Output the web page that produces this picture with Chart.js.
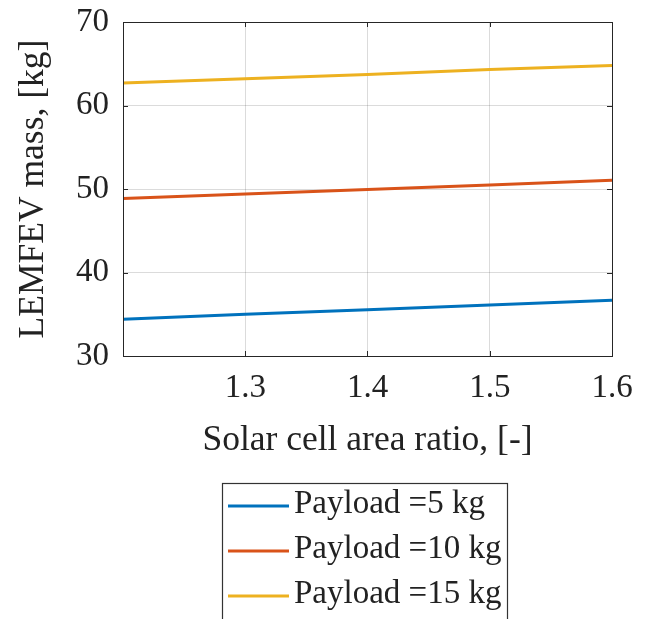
<!DOCTYPE html>
<html>
<head>
<meta charset="utf-8">
<script src="https://cdn.jsdelivr.net/npm/chart.js@4/dist/chart.umd.min.js"></script>
<style>
  html, body { margin: 0; padding: 0; background: #fff; }
  #wrap { width: 646px; height: 619px; }
</style>
</head>
<body>
<div id="wrap"><canvas id="c" width="646" height="619"></canvas></div>
<script>
// Solar cell area ratio (x) and LEMFEV mass for three payloads
const areaRatio = [1.2, 1.3, 1.4, 1.5, 1.6];
const mass5kg  = [34.40, 34.99, 35.54, 36.10, 36.67];
const mass10kg = [48.85, 49.41, 49.93, 50.49, 51.05];
const mass15kg = [62.69, 63.20, 63.72, 64.32, 64.80];
const seriesLabels = ['Payload =5 kg', 'Payload =10 kg', 'Payload =15 kg'];
const seriesColors = ['#0072BD', '#D95319', '#EDB120'];
const yTicks = [30, 40, 50, 60, 70];
const xTicks = [1.3, 1.4, 1.5, 1.6];

const FONT = '"Liberation Serif", "DejaVu Serif", serif';
const TEXT = '#222222';
const pts = ys => areaRatio.map((x, i) => ({ x: x, y: ys[i] }));

// Box around the axes, inward tick marks and the boxed legend below
const framePlugin = {
  id: 'frame',
  afterDatasetsDraw(chart) {
    const { ctx, chartArea: a, scales } = chart;
    ctx.save();
    ctx.strokeStyle = '#262626';
    ctx.lineWidth = 1;
    ctx.strokeRect(Math.round(a.left) + 0.5, Math.round(a.top) + 0.5,
                   Math.round(a.right - a.left), Math.round(a.bottom - a.top));
    const tl = 5;
    ctx.beginPath();
    xTicks.forEach(v => {
      const px = Math.round(scales.x.getPixelForValue(v)) + 0.5;
      ctx.moveTo(px, a.bottom); ctx.lineTo(px, a.bottom - tl);
      ctx.moveTo(px, a.top); ctx.lineTo(px, a.top + tl);
    });
    yTicks.forEach(v => {
      const py = Math.round(scales.y.getPixelForValue(v)) + 0.5;
      ctx.moveTo(a.left, py); ctx.lineTo(a.left + tl, py);
      ctx.moveTo(a.right, py); ctx.lineTo(a.right - tl, py);
    });
    ctx.stroke();
    ctx.restore();
  },
  afterDraw(chart) {
    const { ctx } = chart;
    const box = { left: 222, top: 483, right: 507, bottom: 640 };
    ctx.save();
    ctx.fillStyle = '#fff';
    ctx.fillRect(box.left, box.top, box.right - box.left, box.bottom - box.top);
    ctx.strokeStyle = '#333';
    ctx.lineWidth = 1.2;
    ctx.strokeRect(box.left + 0.5, box.top + 0.5, box.right - box.left, box.bottom - box.top);
    ctx.font = '33px ' + FONT;
    ctx.textBaseline = 'alphabetic';
    ctx.textAlign = 'left';
    chart.data.datasets.forEach((ds, i) => {
      const base = 513 + i * 45;
      ctx.strokeStyle = ds.borderColor;
      ctx.lineWidth = 3;
      ctx.beginPath();
      ctx.moveTo(228, base - 7); ctx.lineTo(289, base - 7);
      ctx.stroke();
      ctx.fillStyle = TEXT;
      ctx.fillText(ds.label, 294, base);
    });
    ctx.restore();
  }
};

new Chart(document.getElementById('c'), {
  type: 'line',
  data: {
    datasets: [
      { label: seriesLabels[0], data: pts(mass5kg),  borderColor: seriesColors[0] },
      { label: seriesLabels[1], data: pts(mass10kg), borderColor: seriesColors[1] },
      { label: seriesLabels[2], data: pts(mass15kg), borderColor: seriesColors[2] }
    ].map(d => Object.assign(d, { borderWidth: 3, pointRadius: 0, tension: 0, fill: false }))
  },
  options: {
    responsive: false,
    animation: false,
    events: [],
    layout: { padding: { left: 0, top: 22, right: 34, bottom: 149 } },
    plugins: { legend: { display: false }, tooltip: { enabled: false } },
    scales: {
      x: {
        type: 'linear', min: 1.2, max: 1.6,
        afterFit: s => { s.height = 114; s.paddingLeft = 0; s.paddingRight = 0; },
        afterBuildTicks: s => { s.ticks = [1.2].concat(xTicks).map(v => ({ value: v })); },
        ticks: {
          padding: 13, color: TEXT, font: { family: FONT, size: 33 },
          maxRotation: 0,
          callback: v => (Math.abs(v - 1.2) < 1e-9 ? '' : Number(v).toFixed(1))
        },
        grid: { color: 'rgba(0,0,0,0.14)', drawTicks: false, lineWidth: 1 },
        border: { display: false },
        title: { display: true, text: 'Solar cell area ratio, [-]', color: TEXT,
                 font: { family: FONT, size: 35.5 }, padding: { top: 0, bottom: 8 } }
      },
      y: {
        type: 'linear', min: 30, max: 70,
        afterFit: s => { s.width = 123; s.paddingTop = 0; s.paddingBottom = 0; },
        afterBuildTicks: s => { s.ticks = yTicks.map(v => ({ value: v })); },
        ticks: { padding: 14, color: TEXT, font: { family: FONT, size: 33 } },
        grid: { color: 'rgba(0,0,0,0.14)', drawTicks: false, lineWidth: 1 },
        border: { display: false },
        title: { display: true, text: 'LEMFEV mass, [kg]', color: TEXT,
                 font: { family: FONT, size: 35.5 }, padding: { top: 12, bottom: 0 } }
      }
    }
  },
  plugins: [framePlugin]
});
</script>
</body>
</html>
